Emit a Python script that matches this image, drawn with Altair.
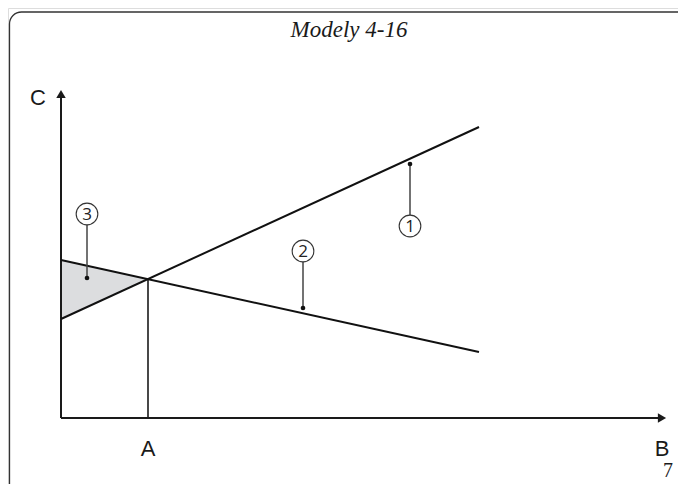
import altair as alt
import pandas as pd

# ---- data (diagram units: origin at axis corner) ----
line_names = ["1", "1", "2", "2"]
line_x = [0, 418, 0, 418]
line_y = [99, 291, 158, 66]

shade_x = [0, 87]
shade_top = [158, 139]
shade_bottom = [99, 139]

a_x = 87
a_y = 139

callout_labels = ["1", "2", "3"]
callout_dot_x = [349, 242, 26]
callout_dot_y = [254, 110, 140]
callout_circle_y = [192, 167, 204]

axis_labels = ["C", "A", "B"]
axis_label_x = [-23, 87, 601]
axis_label_y = [320, -31, -31]

title_text = "Modely 4-16"
page_number = "7"

XD = [-53, 617]
YD = [-66, 410]

xs = alt.Scale(domain=XD, nice=False, zero=False)
ys = alt.Scale(domain=YD, nice=False, zero=False)


def X(f, **kw):
    return alt.X(f, type="quantitative", scale=xs, axis=None, **kw)


def Y(f, **kw):
    return alt.Y(f, type="quantitative", scale=ys, axis=None, **kw)


# frame
frame_df = pd.DataFrame({"x": [-51.5], "x2": [633], "y": [406], "y2": [-80]})
frame = alt.Chart(frame_df).mark_rect(
    fill=None, filled=False, stroke="#333333", strokeWidth=1.3, cornerRadius=12
).encode(x=X("x"), x2="x2", y=Y("y"), y2="y2")

# shaded triangle
shade_df = pd.DataFrame({"x": shade_x, "top": shade_top, "bottom": shade_bottom})
shade = alt.Chart(shade_df).mark_area(color="#dcdddf", opacity=1).encode(
    x=X("x"), y=Y("top"), y2="bottom"
)

# axes
axes_df = pd.DataFrame({"x": [0, 0], "x2": [0, 598], "y": [0, 0], "y2": [322, 0]})
axes = alt.Chart(axes_df).mark_rule(color="#1a1a1a", strokeWidth=2).encode(
    x=X("x"), x2="x2", y=Y("y"), y2="y2"
)
arrow_up = alt.Chart(pd.DataFrame({"x": [0], "y": [324]})).mark_point(
    shape="triangle-up", filled=True, color="#1a1a1a", size=90, opacity=1
).encode(x=X("x"), y=Y("y"))
arrow_right = alt.Chart(pd.DataFrame({"x": [601], "y": [0]})).mark_point(
    shape="triangle-right", filled=True, color="#1a1a1a", size=90, opacity=1
).encode(x=X("x"), y=Y("y"))

# vertical at A
vline = alt.Chart(pd.DataFrame({"x": [a_x], "y": [0], "y2": [a_y]})).mark_rule(
    color="#1a1a1a", strokeWidth=1.6
).encode(x=X("x"), y=Y("y"), y2="y2")

# main lines
lines_df = pd.DataFrame({"name": line_names, "x": line_x, "y": line_y})
lines = alt.Chart(lines_df).mark_line(color="#111111", strokeWidth=2).encode(
    x=X("x"), y=Y("y"), detail="name:N"
)

# callouts
co_df = pd.DataFrame(
    {"label": callout_labels, "x": callout_dot_x, "dot": callout_dot_y, "circ": callout_circle_y}
)
co_df["lead"] = [c + 11 if c < d else c - 11 for c, d in zip(co_df["circ"], co_df["dot"])]
leaders = alt.Chart(co_df).mark_rule(color="#444444", strokeWidth=1.5).encode(
    x=X("x"), y=Y("lead"), y2="dot"
)
dots = alt.Chart(co_df).mark_circle(color="#111111", size=22, opacity=1).encode(
    x=X("x"), y=Y("dot")
)
circles = alt.Chart(co_df).mark_point(
    shape="circle", filled=False, color="#333333", size=470, strokeWidth=1.1, opacity=1
).encode(x=X("x"), y=Y("circ"))
digits = alt.Chart(co_df).mark_text(
    font="Open Sans", fontSize=17, color="#222222", baseline="middle", align="center", dy=0.5
).encode(x=X("x"), y=Y("circ"), text="label:N")

# axis letters
al_df = pd.DataFrame({"t": axis_labels, "x": axis_label_x, "y": axis_label_y})
letters = alt.Chart(al_df).mark_text(
    font="Liberation Sans", fontSize=22, color="#1a1a1a", baseline="middle", align="center"
).encode(x=X("x"), y=Y("y"), text="t:N")

# title and page number
title = alt.Chart(pd.DataFrame({"t": [title_text], "x": [288], "y": [388]})).mark_text(
    font="Liberation Serif", fontStyle="italic", fontSize=23, color="#1a1a1a",
    baseline="middle", align="center"
).encode(x=X("x"), y=Y("y"), text="t:N")
page = alt.Chart(pd.DataFrame({"t": [page_number], "x": [607], "y": [-53]})).mark_text(
    font="Liberation Serif", fontSize=20, color="#1a1a1a", baseline="middle", align="center"
).encode(x=X("x"), y=Y("y"), text="t:N")

chart = alt.layer(
    frame, shade, axes, arrow_up, arrow_right, vline, lines, leaders, dots, circles, digits,
    letters, title, page
).properties(
    width=670, height=476, padding=0, autosize=alt.AutoSizeParams(type="none")
).configure_view(stroke=None).configure(background="white")

chart.save("out.html", embed_options={"renderer": "svg", "actions": False})
